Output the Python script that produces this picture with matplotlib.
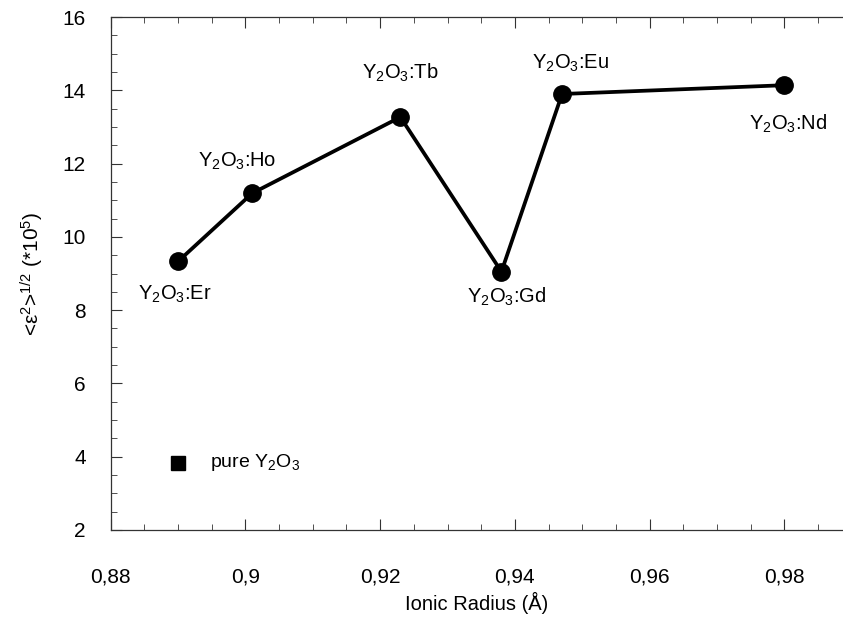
import numpy as np
import matplotlib.pyplot as plt
from matplotlib.ticker import MultipleLocator, FuncFormatter

plt.rcParams['font.family'] = ['Liberation Sans', 'DejaVu Sans']
plt.rcParams['mathtext.fontset'] = 'custom'
plt.rcParams['mathtext.rm'] = 'Liberation Sans'
plt.rcParams['mathtext.it'] = 'Liberation Sans'

#=== Data ===
dopants = ["Er", "Ho", "Tb", "Gd", "Eu", "Nd"]
radius = [0.890, 0.901, 0.923, 0.938, 0.947, 0.980]
strain = [9.33, 11.19, 13.27, 9.05, 13.90, 14.14]
# label offsets (points) relative to each marker
label_offsets = [(-2, -24), (-11, 23), (0, 32), (4, -18), (6, 22), (3, -28)]
pure_radius = [0.890]
pure_strain = [3.83]

fig = plt.figure(figsize=(8.43, 6.18), dpi=100)
ax = fig.add_axes([0.1313, 0.1424, 0.8687, 0.83])

ax.plot(radius, strain, color="black", linewidth=2.7, marker="o", markersize=12.5, zorder=3)
ax.plot(pure_radius, pure_strain, color="black", linestyle="none", marker="s", markersize=10.5)
ax.text(0.8947, pure_strain[0], "pure Y$_2$O$_3$", fontsize=14, va="center", ha="left")

for x, y, d, off in zip(radius, strain, dopants, label_offsets):
    ax.annotate("Y$_2$O$_3$:" + d, xy=(x, y), xytext=off, textcoords="offset points",
                ha="center", va="center", fontsize=14.5)

#=== Decoration ===
ax.set_xlim(0.88, 0.9887)
ax.set_ylim(2, 16)
ax.xaxis.set_major_locator(MultipleLocator(0.02))
ax.xaxis.set_minor_locator(MultipleLocator(0.005))
ax.yaxis.set_major_locator(MultipleLocator(2))
ax.yaxis.set_minor_locator(MultipleLocator(0.5))
ax.xaxis.set_major_formatter(FuncFormatter(lambda v, p: ("%g" % round(v, 3)).replace(".", ",")))
ax.tick_params(which="both", direction="in", top=True, right=False, color="#333333")
ax.tick_params(which="major", length=8, labelsize=15)
ax.tick_params(axis="y", which="major", pad=18)
ax.tick_params(axis="x", which="major", pad=27)
ax.tick_params(which="minor", length=4.5)
for s in ["left", "bottom", "top"]:
    ax.spines[s].set_color("#333333")
    ax.spines[s].set_linewidth(0.9)
ax.spines["right"].set_visible(False)

ax.set_xlabel("Ionic Radius (Å)", fontsize=14.5, labelpad=4)
ax.set_ylabel(r"<ε$^2$>$^{1/2}$ (*10$^5$)", fontsize=15, labelpad=12)

fig.savefig("out.png", dpi=100)
